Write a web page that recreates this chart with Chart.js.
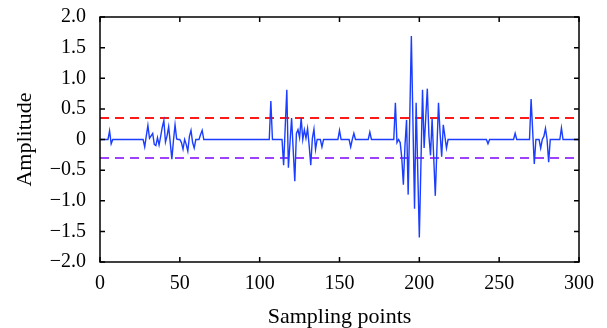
<!DOCTYPE html>
<html>
<head>
<meta charset="utf-8">
<script src="https://cdn.jsdelivr.net/npm/chart.js@4"></script>
<style>
  html, body { margin: 0; padding: 0; background: #fff; }
  canvas { display: block; }
</style>
</head>
<body>
<canvas id="myChart" width="607" height="328"></canvas>
<script>
// Signal amplitude for sampling points 0..300
const amplitude = [
  0, 0, 0, 0, 0, 0, 0.14, -0.07, 0, 0,
  0, 0, 0, 0, 0, 0, 0, 0, 0, 0,
  0, 0, 0, 0, 0, 0, 0, 0, -0.12, 0.06,
  0.23, 0.02, 0.06, 0.10, -0.08, -0.10, 0.03, -0.09, 0.05, 0.20,
  0.31, -0.04, 0.06, 0.21, -0.05, -0.32, -0.02, 0.24, 0.01, 0,
  0, -0.05, -0.16, 0, -0.08, -0.19, 0.05, 0.15, -0.05, -0.14,
  0, 0, 0, 0.08, 0.15, 0, 0, 0, 0, 0,
  0, 0, 0, 0, 0, 0, 0, 0, 0, 0,
  0, 0, 0, 0, 0, 0, 0, 0, 0, 0,
  0, 0, 0, 0, 0, 0, 0, 0, 0, 0,
  0, 0, 0, 0, 0, 0, 0, 0.63, 0, 0,
  0, 0, 0, 0, 0, -0.42, 0.20, 0.81, -0.46, -0.05,
  0.35, -0.17, -0.68, 0.10, 0.16, 0.03, 0.35, 0, 0.16, 0.02,
  0.18, -0.10, -0.42, 0.02, 0.17, -0.16, 0, 0, 0, -0.12,
  0, 0, 0, 0, 0, 0, 0, 0, 0, 0,
  0.15, 0, 0, 0, 0, 0, 0, -0.12, 0, 0.10,
  0, 0, 0, 0, 0, 0, 0, 0, 0, 0.12,
  0, 0, 0, 0, 0, 0, 0, 0, 0, 0,
  0, 0, 0, 0, 0, 0.60, -0.05, 0, -0.05, -0.30,
  -0.74, -0.10, 0.32, -0.90, 0.35, 1.69, 0.28, -1.13, 0.60, -0.50,
  -1.60, -0.40, 0.81, -0.14, 0.35, 0.83, 0.06, -0.26, 0.34, -0.29,
  -0.92, -0.16, 0.60, 0.10, -0.28, 0.24, 0.05, -0.14, 0, 0,
  0, 0, 0, 0, 0, 0, 0, 0, 0, 0,
  0, 0, 0, 0, 0, 0, 0, 0, 0, 0,
  0, 0, 0, -0.07, 0, 0, 0, 0, 0, 0,
  0, 0, 0, 0, 0, 0, 0, 0, 0, 0,
  0.10, 0, 0, 0, 0, 0, 0, 0, 0, 0,
  0.66, 0.13, -0.40, 0, 0, 0, -0.14, 0, 0.05, 0.18,
  0, -0.37, 0, 0, 0, 0, 0, 0, 0, 0.19,
  0, 0, 0, 0, 0, 0, 0, 0, 0, 0,
  0
];

// Threshold levels
const upperThreshold = 0.35;
const lowerThreshold = -0.30;

// Axis ticks
const xTicks = [0, 50, 100, 150, 200, 250, 300];
const yTicks = [-2.0, -1.5, -1.0, -0.5, 0, 0.5, 1.0, 1.5, 2.0];

const xMin = xTicks[0], xMax = xTicks[xTicks.length - 1];
const signal = amplitude.map((v, i) => ({ x: i, y: v }));
const hLine = v => [{ x: xMin, y: v }, { x: xMax, y: v }];

const serif = "'Liberation Serif', 'Times New Roman', serif";
const tickFont = { family: serif, size: 20 };
const titleFont = { family: serif, size: 22, lineHeight: 1 };

// box around the plot + inward tick marks on every side
const frameTicks = {
  id: 'frameTicks',
  afterDatasetsDraw(chart) {
    const { ctx, chartArea: a, scales: { x, y } } = chart;
    ctx.save();
    ctx.strokeStyle = '#000';
    ctx.lineWidth = 1.5;
    ctx.beginPath();
    xTicks.forEach(t => {
      const px = x.getPixelForValue(t);
      ctx.moveTo(px, a.bottom); ctx.lineTo(px, a.bottom - 5);
      ctx.moveTo(px, a.top); ctx.lineTo(px, a.top + 5);
    });
    yTicks.forEach(t => {
      const py = y.getPixelForValue(t);
      ctx.moveTo(a.left, py); ctx.lineTo(a.left + 5, py);
      ctx.moveTo(a.right, py); ctx.lineTo(a.right - 5, py);
    });
    ctx.stroke();
    ctx.strokeRect(a.left, a.top, a.right - a.left, a.bottom - a.top);
    ctx.restore();
  }
};

const ctx = document.getElementById('myChart').getContext('2d');

new Chart(ctx, {
  type: 'line',
  data: {
    datasets: [
      {
        data: signal,
        borderColor: '#1a3dff',
        borderWidth: 1.4,
        pointRadius: 0,
        tension: 0
      },
      {
        data: hLine(upperThreshold),
        borderColor: '#ff1a1a',
        borderWidth: 2,
        borderDash: [9, 6],
        pointRadius: 0
      },
      {
        data: hLine(lowerThreshold),
        borderColor: '#a040ff',
        borderWidth: 2,
        borderDash: [9, 6],
        pointRadius: 0
      }
    ]
  },
  options: {
    responsive: false,
    animation: false,
    layout: { padding: { top: 17, right: 28, left: 14, bottom: 0 } },
    plugins: {
      legend: { display: false },
      tooltip: { enabled: false }
    },
    scales: {
      x: {
        type: 'linear',
        min: xMin,
        max: xMax,
        afterBuildTicks: s => { s.ticks = xTicks.map(v => ({ value: v })); },
        afterFit: s => { s.height = 66; },
        grid: { display: false, drawTicks: false },
        border: { display: false },
        ticks: {
          color: '#000',
          padding: 10,
          maxRotation: 0,
          font: tickFont,
          callback: v => String(v)
        },
        title: {
          display: true,
          text: 'Sampling points',
          color: '#000',
          font: titleFont,
          padding: { top: 0, bottom: 0 }
        }
      },
      y: {
        min: yTicks[0],
        max: yTicks[yTicks.length - 1],
        afterBuildTicks: s => { s.ticks = yTicks.map(v => ({ value: v })); },
        afterFit: s => {
          s.width = 86;
          s.paddingTop = 0;
          s.paddingBottom = 0;
        },
        grid: { display: false, drawTicks: false },
        border: { display: false },
        ticks: {
          color: '#000',
          padding: 14,
          font: tickFont,
          callback: v => v === 0 ? '0' : v.toFixed(1).replace('-', '\u2212')
        },
        title: {
          display: true,
          text: 'Amplitude',
          color: '#000',
          font: titleFont,
          padding: { top: 0, bottom: 0 }
        }
      }
    }
  },
  plugins: [frameTicks]
});
</script>
</body>
</html>
